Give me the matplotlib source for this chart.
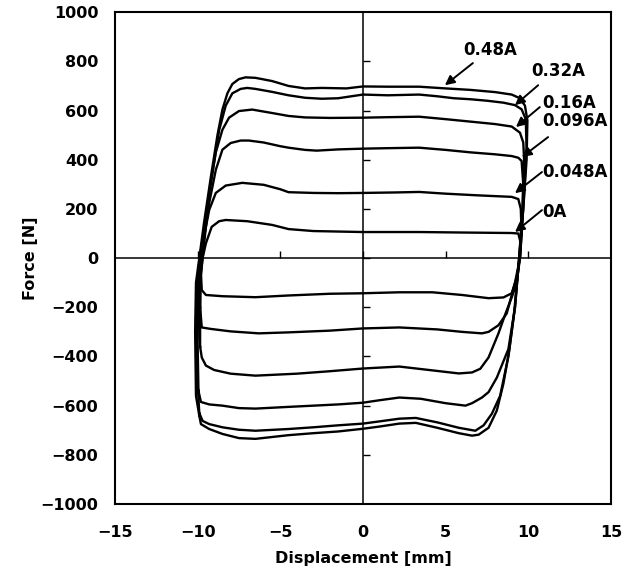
import matplotlib
matplotlib.use('Agg')
import matplotlib.pyplot as plt
from matplotlib.lines import TICKUP, TICKRIGHT

# hysteresis loops, (displacement mm, force N)
loop_0A = [(-9.8, -60), (-9.7, 0), (-9.5, 60), (-9.15, 127), (-8.7, 150), (-8.3, 155),
           (-7.0, 150), (-5.5, 135), (-4.5, 118), (-3.0, 110), (-1.5, 108), (0.0, 106),
           (3.4, 106), (6.0, 104), (9.0, 102), (9.4, 100), (9.55, 60), (9.5, 0),
           (9.3, -80), (9.0, -143), (8.5, -160), (7.6, -163), (6.0, -150), (4.2, -139),
           (2.2, -139), (0.0, -143), (-2.0, -145), (-4.5, -152), (-6.5, -159),
           (-8.5, -155), (-9.5, -150), (-9.75, -130), (-9.8, -60)]

loop_0048A = [(-9.85, -200), (-9.8, -50), (-9.7, 50), (-9.5, 127), (-9.3, 196), (-8.9, 265),
              (-8.3, 295), (-7.3, 306), (-6.0, 298), (-5.0, 280), (-4.5, 268), (-3.0, 265),
              (-1.5, 264), (0.0, 265), (2.0, 267), (3.4, 269), (5.0, 262), (7.0, 255),
              (9.0, 249), (9.4, 240), (9.55, 200), (9.6, 100), (9.5, 0), (9.2, -100),
              (8.7, -225), (8.2, -273), (7.6, -300), (7.2, -306), (6.0, -300), (4.5, -290),
              (2.2, -282), (0.0, -286), (-2.0, -295), (-4.5, -302), (-6.3, -306),
              (-8.0, -298), (-9.2, -288), (-9.75, -282), (-9.85, -200)]

loop_0096A = [(-9.85, -360), (-9.85, -100), (-9.7, 0), (-9.5, 127), (-9.3, 224), (-8.9, 359),
              (-8.5, 441), (-8.0, 468), (-7.4, 478), (-6.9, 478), (-6.0, 470), (-5.0, 455),
              (-4.5, 449), (-3.5, 440), (-2.8, 437), (-1.5, 442), (0.0, 445), (1.5, 447),
              (3.4, 449), (5.0, 440), (6.5, 430), (8.0, 422), (9.0, 415), (9.4, 408),
              (9.6, 395), (9.7, 300), (9.65, 150), (9.5, 0), (9.3, -100), (9.0, -160),
              (8.6, -230), (8.2, -306), (7.6, -404), (7.1, -450), (6.6, -465), (5.8, -469),
              (4.0, -455), (2.2, -441), (0.0, -449), (-2.0, -460), (-4.0, -470),
              (-6.5, -478), (-8.0, -470), (-9.0, -455), (-9.5, -437), (-9.75, -404),
              (-9.85, -360)]

loop_016A = [(-9.95, -540), (-10.0, -350), (-9.95, -100), (-9.8, 0), (-9.6, 86), (-9.3, 265),
             (-8.9, 430), (-8.5, 522), (-8.1, 571), (-7.5, 598), (-6.7, 604), (-5.5, 590),
             (-4.5, 578), (-3.5, 572), (-2.0, 570), (0.0, 571), (1.5, 573), (3.4, 575),
             (5.0, 565), (6.5, 555), (8.0, 545), (9.0, 535), (9.5, 510), (9.7, 470),
             (9.75, 400), (9.65, 200), (9.45, 0), (9.2, -200), (8.8, -370), (8.1, -486),
             (7.6, -545), (7.2, -567), (6.6, -590), (6.2, -600), (5.0, -590), (3.5, -572),
             (2.2, -567), (1.0, -578), (0.0, -588), (-1.5, -595), (-3.0, -600),
             (-4.5, -605), (-6.5, -612), (-7.5, -610), (-8.5, -600), (-9.3, -595),
             (-9.8, -585), (-9.95, -540)]

loop_032A = [(-9.9, -630), (-10.05, -450), (-10.1, -250), (-10.0, -80), (-9.8, 30), (-9.5, 170),
             (-9.1, 350), (-8.7, 520), (-8.3, 620), (-7.9, 670), (-7.4, 688), (-7.0, 692),
             (-6.5, 688), (-5.5, 676), (-4.5, 662), (-3.5, 652), (-2.5, 648), (-1.5, 650),
             (0.0, 665), (1.5, 662), (3.4, 665), (4.5, 658), (5.5, 650), (6.5, 646),
             (7.5, 640), (8.5, 632), (9.2, 622), (9.6, 605), (9.85, 565), (9.9, 450),
             (9.7, 200), (9.45, 0), (9.15, -220), (8.8, -400), (8.3, -560), (7.8, -633),
             (7.3, -680), (6.8, -702), (5.8, -690), (4.5, -668), (3.2, -650), (2.2, -653),
             (1.0, -664), (0.0, -673), (-1.5, -680), (-3.0, -688), (-4.5, -695),
             (-6.5, -702), (-7.5, -698), (-8.5, -688), (-9.3, -675), (-9.7, -662),
             (-9.9, -630)]

loop_048A = [(-9.9, -640), (-10.1, -560), (-10.15, -300), (-10.1, -100), (-9.9, 0), (-9.6, 150),
             (-9.2, 330), (-8.8, 500), (-8.5, 604), (-8.2, 670), (-7.9, 708), (-7.5, 728),
             (-7.1, 735), (-6.5, 733), (-5.5, 720), (-4.5, 700), (-3.5, 690), (-2.5, 692),
             (-1.0, 690), (0.0, 698), (1.5, 697), (3.4, 697), (5.0, 690), (6.5, 684),
             (8.0, 675), (9.0, 665), (9.5, 650), (9.8, 620), (9.95, 560), (9.9, 400),
             (9.7, 200), (9.45, 0), (9.2, -200), (8.85, -375), (8.5, -510), (8.1, -620),
             (7.6, -690), (7.0, -718), (6.6, -722), (5.8, -712), (4.5, -690), (3.2, -670),
             (2.2, -673), (1.0, -685), (0.0, -694), (-1.5, -705), (-3.0, -712),
             (-4.5, -720), (-6.5, -735), (-7.5, -732), (-8.5, -715), (-9.3, -695),
             (-9.8, -675), (-9.9, -640)]

loops = [loop_0A, loop_0048A, loop_0096A, loop_016A, loop_032A, loop_048A]

# labels: text position, arrow tail, arrow head
labels = ['0.48A', '0.32A', '0.16A', '0.096A', '0.048A', '0A']
label_pos = [(6.05, 846), (10.2, 760), (10.85, 630), (10.85, 557), (10.85, 350), (10.85, 187)]
arrow_tail = [(6.65, 793), (10.6, 703), (10.7, 614), (11.2, 492), (10.83, 350), (10.83, 195)]
arrow_head = [(4.96, 703), (9.2, 622), (9.26, 533), (9.62, 411), (9.2, 264), (9.2, 106)]

xticks = [-15, -10, -5, 0, 5, 10, 15]
yticks = [-1000, -800, -600, -400, -200, 0, 200, 400, 600, 800, 1000]

fig = plt.figure(figsize=(6.37, 5.80), dpi=100)
ax = fig.add_axes([0.1805, 0.131, 0.7785, 0.848])

for lp in loops:
    xs = [p[0] for p in lp]
    ys = [p[1] for p in lp]
    ax.plot(xs, ys, color='black', lw=1.7, solid_joinstyle='round')

# cross hair with small ticks
ax.axhline(0, color='black', lw=1.1)
ax.axvline(0, color='black', lw=1.1)
ax.plot(xticks[1:-1], [0] * 5, ls='none', marker=TICKUP, ms=5, mew=1, color='black')
ax.plot([0] * 9, yticks[1:-1], ls='none', marker=TICKRIGHT, ms=5, mew=1, color='black')

for lab, tp, tail, head in zip(labels, label_pos, arrow_tail, arrow_head):
    ax.annotate('', xy=head, xytext=tail,
                arrowprops=dict(arrowstyle='-|>', color='black', lw=1.4,
                                mutation_scale=14, shrinkA=0, shrinkB=0))
    ax.text(tp[0], tp[1], lab, ha='left', va='center', fontsize=12, fontweight='bold')

ax.set_xlim(-15, 15)
ax.set_ylim(-1000, 1000)
ax.set_xticks(xticks)
ax.set_yticks(yticks)
ax.set_xticklabels(['\u221215', '\u221210', '\u22125', '0', '5', '10', '15'])
ax.tick_params(axis='x', length=0, pad=15, labelsize=11.5)
ax.tick_params(axis='y', length=0, pad=12, labelsize=11.5)
for t in ax.get_xticklabels() + ax.get_yticklabels():
    t.set_fontweight('bold')
for s in ax.spines.values():
    s.set_linewidth(1.5)

ax.set_xlabel('Displacement [mm]', fontsize=11.5, fontweight='bold', labelpad=8)
ax.set_ylabel('Force [N]', fontsize=11.5, fontweight='bold', labelpad=2)

fig.savefig('out.png', dpi=100)
